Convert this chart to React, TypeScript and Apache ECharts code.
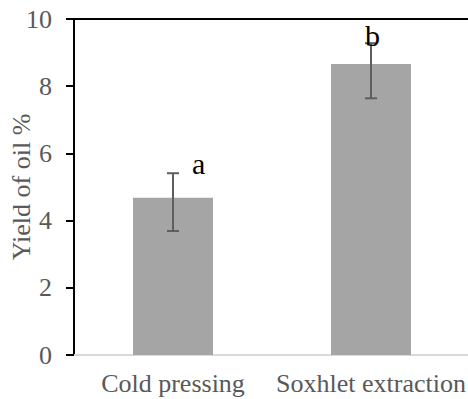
import React, { useEffect, useRef } from "react";
import * as echarts from "echarts";

const categories = ["Cold pressing", "Soxhlet extraction"];
const yieldValues = [4.68, 8.66];
const errLow = [3.69, 7.64];
const errHigh = [5.41, 9.28];
const letters = ["a", "b"];
const yTicks = { min: 0, max: 10, interval: 2 };

const FONT = "Liberation Serif";
const letterOffsets = [
  [19, 5],
  [-6, 7],
];

export default function App() {
  const ref = useRef<HTMLDivElement>(null);
  useEffect(() => {
    if (!ref.current) return;
    const chart = echarts.init(ref.current, undefined, { renderer: "svg" });
    chart.setOption({
      animation: false,
      backgroundColor: "#ffffff",
      textStyle: { fontFamily: FONT },
      grid: { left: 74, right: -2, top: 19, bottom: 44, containLabel: false, outerBoundsMode: "none" },
      xAxis: [
        {
          type: "category",
          data: categories,
          axisTick: { show: false },
          axisLine: { lineStyle: { color: "#d9d9d9", width: 2 } },
          axisLabel: { fontFamily: FONT, fontSize: 26, color: "#595959", margin: 15, interval: 0, hideOverlap: false },
        },
        {
          type: "category",
          data: categories,
          position: "top",
          axisTick: { show: false },
          axisLabel: { show: false },
          axisLine: { lineStyle: { color: "#000000", width: 2 } },
        },
      ],
      yAxis: {
        type: "value",
        min: yTicks.min,
        max: yTicks.max,
        interval: yTicks.interval,
        name: "Yield of oil %",
        nameLocation: "middle",
        nameGap: 40,
        nameMoveOverlap: false,
        nameTextStyle: { fontFamily: FONT, fontSize: 26, color: "#595959" },
        splitLine: { show: false },
        axisLine: { show: true, lineStyle: { color: "#000000", width: 2 } },
        axisTick: { show: true, length: 8, lineStyle: { color: "#000000", width: 2 } },
        axisLabel: { fontFamily: FONT, fontSize: 26, color: "#595959", margin: 22 },
      },
      series: [
        {
          type: "bar",
          data: yieldValues,
          barWidth: 80,
          itemStyle: { color: "#a5a5a5" },
        },
        {
          type: "custom",
          data: categories.map((_, i) => [i, errLow[i], errHigh[i]]),
          z: 5,
          renderItem: (params: any, api: any) => {
            const idx = api.value(0);
            const lo = api.coord([idx, api.value(1)]);
            const hi = api.coord([idx, api.value(2)]);
            const half = 6;
            const style = { stroke: "#5e5e5e", lineWidth: 2 };
            return {
              type: "group",
              children: [
                { type: "line", shape: { x1: lo[0], y1: lo[1], x2: hi[0], y2: hi[1] }, style },
                { type: "line", shape: { x1: hi[0] - half, y1: hi[1], x2: hi[0] + half, y2: hi[1] }, style },
                { type: "line", shape: { x1: lo[0] - half, y1: lo[1], x2: lo[0] + half, y2: lo[1] }, style },
              ],
            };
          },
        },
        {
          type: "custom",
          data: categories.map((_, i) => [i, errHigh[i]]),
          z: 6,
          renderItem: (params: any, api: any) => {
            const i = params.dataIndex;
            const p = api.coord([api.value(0), api.value(1)]);
            return {
              type: "text",
              x: p[0] + letterOffsets[i][0],
              y: p[1] + letterOffsets[i][1],
              style: {
                text: letters[i],
                fill: "#000000",
                fontFamily: FONT,
                fontSize: 30,
                align: "left",
                verticalAlign: "bottom",
              },
            };
          },
        },
      ],
    });
    return () => chart.dispose();
  }, []);
  return <div ref={ref} style={{ width: 468, height: 399, position: "absolute", left: 0, top: 0 }} />;
}
